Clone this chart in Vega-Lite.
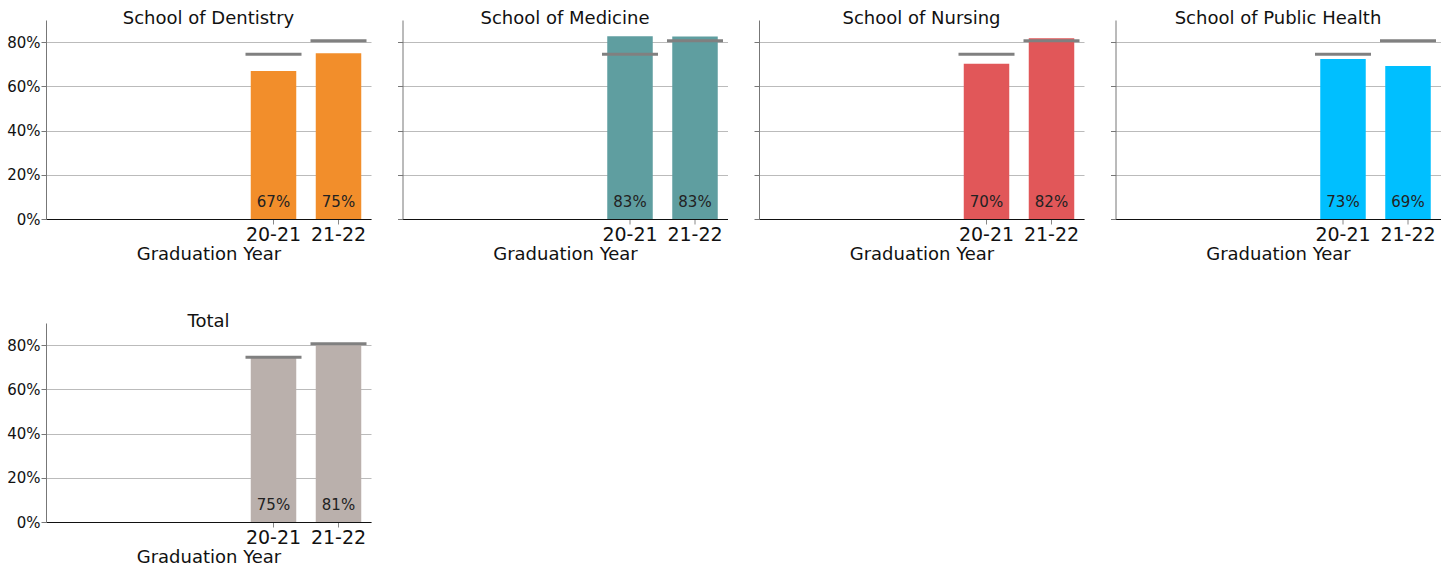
{
  "$schema": "https://vega.github.io/schema/vega-lite/v6.json",
  "padding": {"left": 6, "top": 10, "right": 5, "bottom": 5},
  "datasets": {
    "rates": [
      {"school": "School of Dentistry", "year": "20-21", "rate": 0.669, "avg": 0.745, "label": "67%"},
      {"school": "School of Dentistry", "year": "21-22", "rate": 0.750, "avg": 0.806, "label": "75%"},
      {"school": "School of Medicine", "year": "20-21", "rate": 0.827, "avg": 0.745, "label": "83%"},
      {"school": "School of Medicine", "year": "21-22", "rate": 0.825, "avg": 0.806, "label": "83%"},
      {"school": "School of Nursing", "year": "20-21", "rate": 0.702, "avg": 0.745, "label": "70%"},
      {"school": "School of Nursing", "year": "21-22", "rate": 0.818, "avg": 0.806, "label": "82%"},
      {"school": "School of Public Health", "year": "20-21", "rate": 0.724, "avg": 0.745, "label": "73%"},
      {"school": "School of Public Health", "year": "21-22", "rate": 0.692, "avg": 0.806, "label": "69%"},
      {"school": "Total", "year": "20-21", "rate": 0.745, "avg": 0.745, "label": "75%"},
      {"school": "Total", "year": "21-22", "rate": 0.806, "avg": 0.806, "label": "81%"}
    ]
  },
  "data": {"name": "rates"},
  "columns": 4,
  "spacing": {"column": 25.5, "row": 50},
  "concat": [
    {
      "title": {"text": "School of Dentistry"},
      "width": 325, "height": 199,
      "transform": [{"filter": "datum.school === 'School of Dentistry'"}],
      "encoding": {
        "x": {"field": "year", "type": "nominal", "scale": {"domain": ["17-18", "18-19", "19-20", "20-21", "21-22"], "paddingInner": 0.3, "paddingOuter": 0.15}, "axis": {"values": ["20-21", "21-22"], "title": "Graduation Year"}}
      },
      "layer": [
        {"mark": {"type": "bar", "color": "#F28E2B"}, "encoding": {"y": {"field": "rate", "type": "quantitative", "scale": {"domain": [0, 0.9], "nice": false}, "axis": {"values": [0, 0.2, 0.4, 0.6, 0.8], "format": ".0%", "title": null, "labels": true}}}},
        {"mark": {"type": "tick", "color": "#808080", "opacity": 1, "thickness": 3, "size": 56}, "encoding": {"y": {"field": "avg", "type": "quantitative"}}},
        {"mark": {"type": "text", "fontSize": 15, "dy": -17, "baseline": "middle", "color": "#222222"}, "encoding": {"y": {"datum": 0, "type": "quantitative"}, "text": {"field": "label"}}}
      ]
    },
    {
      "title": {"text": "School of Medicine"},
      "width": 325, "height": 199,
      "transform": [{"filter": "datum.school === 'School of Medicine'"}],
      "encoding": {
        "x": {"field": "year", "type": "nominal", "scale": {"domain": ["17-18", "18-19", "19-20", "20-21", "21-22"], "paddingInner": 0.3, "paddingOuter": 0.15}, "axis": {"values": ["20-21", "21-22"], "title": "Graduation Year"}}
      },
      "layer": [
        {"mark": {"type": "bar", "color": "#5F9EA0"}, "encoding": {"y": {"field": "rate", "type": "quantitative", "scale": {"domain": [0, 0.9], "nice": false}, "axis": {"values": [0, 0.2, 0.4, 0.6, 0.8], "format": ".0%", "title": null, "labels": false}}}},
        {"mark": {"type": "tick", "color": "#808080", "opacity": 1, "thickness": 3, "size": 56}, "encoding": {"y": {"field": "avg", "type": "quantitative"}}},
        {"mark": {"type": "text", "fontSize": 15, "dy": -17, "baseline": "middle", "color": "#222222"}, "encoding": {"y": {"datum": 0, "type": "quantitative"}, "text": {"field": "label"}}}
      ]
    },
    {
      "title": {"text": "School of Nursing"},
      "width": 325, "height": 199,
      "transform": [{"filter": "datum.school === 'School of Nursing'"}],
      "encoding": {
        "x": {"field": "year", "type": "nominal", "scale": {"domain": ["17-18", "18-19", "19-20", "20-21", "21-22"], "paddingInner": 0.3, "paddingOuter": 0.15}, "axis": {"values": ["20-21", "21-22"], "title": "Graduation Year"}}
      },
      "layer": [
        {"mark": {"type": "bar", "color": "#E15759"}, "encoding": {"y": {"field": "rate", "type": "quantitative", "scale": {"domain": [0, 0.9], "nice": false}, "axis": {"values": [0, 0.2, 0.4, 0.6, 0.8], "format": ".0%", "title": null, "labels": false}}}},
        {"mark": {"type": "tick", "color": "#808080", "opacity": 1, "thickness": 3, "size": 56}, "encoding": {"y": {"field": "avg", "type": "quantitative"}}},
        {"mark": {"type": "text", "fontSize": 15, "dy": -17, "baseline": "middle", "color": "#222222"}, "encoding": {"y": {"datum": 0, "type": "quantitative"}, "text": {"field": "label"}}}
      ]
    },
    {
      "title": {"text": "School of Public Health"},
      "width": 325, "height": 199,
      "transform": [{"filter": "datum.school === 'School of Public Health'"}],
      "encoding": {
        "x": {"field": "year", "type": "nominal", "scale": {"domain": ["17-18", "18-19", "19-20", "20-21", "21-22"], "paddingInner": 0.3, "paddingOuter": 0.15}, "axis": {"values": ["20-21", "21-22"], "title": "Graduation Year"}}
      },
      "layer": [
        {"mark": {"type": "bar", "color": "#00BFFF"}, "encoding": {"y": {"field": "rate", "type": "quantitative", "scale": {"domain": [0, 0.9], "nice": false}, "axis": {"values": [0, 0.2, 0.4, 0.6, 0.8], "format": ".0%", "title": null, "labels": false}}}},
        {"mark": {"type": "tick", "color": "#808080", "opacity": 1, "thickness": 3, "size": 56}, "encoding": {"y": {"field": "avg", "type": "quantitative"}}},
        {"mark": {"type": "text", "fontSize": 15, "dy": -17, "baseline": "middle", "color": "#222222"}, "encoding": {"y": {"datum": 0, "type": "quantitative"}, "text": {"field": "label"}}}
      ]
    },
    {
      "title": {"text": "Total"},
      "width": 325, "height": 199,
      "transform": [{"filter": "datum.school === 'Total'"}],
      "encoding": {
        "x": {"field": "year", "type": "nominal", "scale": {"domain": ["17-18", "18-19", "19-20", "20-21", "21-22"], "paddingInner": 0.3, "paddingOuter": 0.15}, "axis": {"values": ["20-21", "21-22"], "title": "Graduation Year"}}
      },
      "layer": [
        {"mark": {"type": "bar", "color": "#BAB0AC"}, "encoding": {"y": {"field": "rate", "type": "quantitative", "scale": {"domain": [0, 0.9], "nice": false}, "axis": {"values": [0, 0.2, 0.4, 0.6, 0.8], "format": ".0%", "title": null, "labels": true}}}},
        {"mark": {"type": "tick", "color": "#808080", "opacity": 1, "thickness": 3, "size": 56}, "encoding": {"y": {"field": "avg", "type": "quantitative"}}},
        {"mark": {"type": "text", "fontSize": 15, "dy": -17, "baseline": "middle", "color": "#222222"}, "encoding": {"y": {"datum": 0, "type": "quantitative"}, "text": {"field": "label"}}}
      ]
    }
  ],
  "config": {
    "font": "DejaVu Sans",
    "view": {"stroke": null},
    "title": {"fontSize": 18, "fontWeight": "normal", "color": "#111111", "offset": -8},
    "axisX": {"labelAngle": 0, "labelFontSize": 19, "titleFontSize": 18, "titleFontWeight": "normal", "labelColor": "#111111", "titleColor": "#111111", "domainColor": "#111111", "tickColor": "#888888", "grid": false, "labelPadding": 1, "titlePadding": 1},
    "axisY": {"labelFontSize": 15, "labelColor": "#111111", "domainColor": "#777777", "tickColor": "#777777", "gridColor": "#BBBBBB", "gridOpacity": 1, "labelPadding": 1}
  }
}
